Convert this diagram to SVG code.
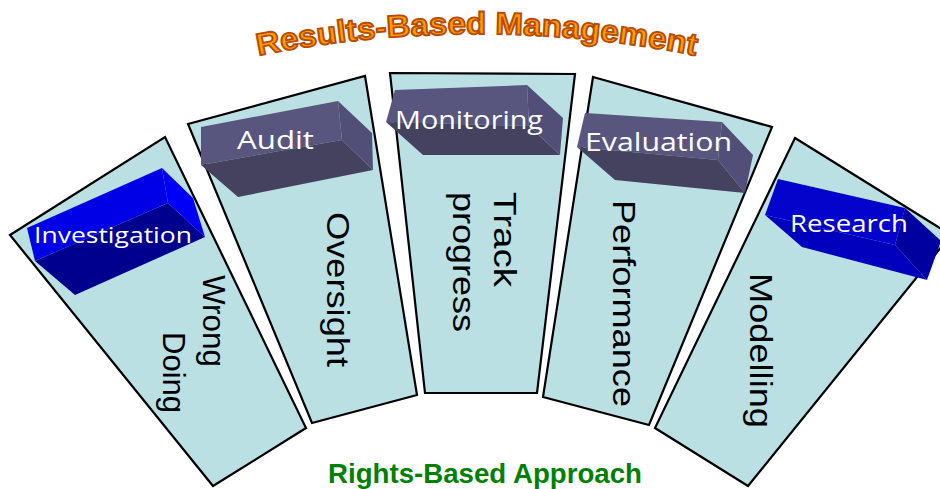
<svg xmlns="http://www.w3.org/2000/svg" width="940" height="489" viewBox="0 0 940 489">
<style>
.panel{fill:#bbe0e3;stroke:#000;stroke-width:2.2;stroke-linejoin:miter}
.ptxt{font-family:"Liberation Sans",Arial,sans-serif;font-size:31px;fill:#000}
.btxt{font-family:"Open Sans","DejaVu Sans",sans-serif;fill:#fff}
.pt{fill:#58567f}.pf{fill:#44425f}.pe{fill:#514e77}
.bt{fill:#0000e6}.bf{fill:#00008e}.be{fill:#0000f8}
.rt{fill:#0303cc}.rf{fill:#0000bd}.re{fill:#00009e}
.title{font-family:"Liberation Sans",Arial,sans-serif;font-weight:bold;font-size:31px;fill:#ff9c00;stroke:#b94a00;stroke-width:1.8}
.sub{font-family:"Liberation Sans",Arial,sans-serif;font-weight:bold;font-size:28px;fill:#008000}
</style>
<defs>
<path id="arc" d="M 247,57.8 A 1123 1123 0 0 1 707,57.8"/>
</defs>
<g id="title">
<text class="title"><textPath href="#arc" startOffset="50%" text-anchor="middle" textLength="440" lengthAdjust="spacingAndGlyphs">Results-Based Management</textPath></text>
</g>
<g id="wrongdoing">
<polygon class="panel" points="10,235 165,137 306,428 213,486"/>
<polygon class="bt" points="27,228 162,168 168,203 35,261"/>
<polygon class="bf" points="35,261 168,203 205,237 75,295"/>
<polygon class="be" points="162,168 193,198 205,237 168,203"/>
<text class="btxt" x="34" y="243" font-size="22" textLength="158" lengthAdjust="spacingAndGlyphs">Investigation</text>
<text class="ptxt" transform="translate(203,275) rotate(90)" textLength="92" lengthAdjust="spacingAndGlyphs">Wrong</text>
<text class="ptxt" transform="translate(163,332) rotate(90)" textLength="81" lengthAdjust="spacingAndGlyphs">Doing</text>
</g>
<g id="oversight">
<polygon class="panel" points="188,124 365,76 417,395 312,423"/>
<polygon class="pt" points="201,127 338,101 342,140 201,165"/>
<polygon class="pf" points="201,165 342,140 373,170 238,197"/>
<polygon class="pe" points="338,101 372,133 373,170 342,140"/>
<text class="btxt" x="237" y="149" font-size="26" textLength="77" lengthAdjust="spacingAndGlyphs">Audit</text>
<text class="ptxt" transform="translate(327,212) rotate(90)" textLength="155" lengthAdjust="spacingAndGlyphs">Oversight</text>
</g>
<g id="trackprogress">
<polygon class="panel" points="390,73 575,74 537,393 425,393"/>
<polygon class="pt" points="395,90 527,85 529,126 386,122"/>
<polygon class="pf" points="386,122 529,126 560,155 423,155"/>
<polygon class="pe" points="527,85 563,118 560,155 529,126"/>
<text class="btxt" x="395" y="129" font-size="26" textLength="148" lengthAdjust="spacingAndGlyphs">Monitoring</text>
<text class="ptxt" transform="translate(494,192) rotate(90)" textLength="95" lengthAdjust="spacingAndGlyphs">Track</text>
<text class="ptxt" transform="translate(453,192) rotate(90)" textLength="140" lengthAdjust="spacingAndGlyphs">progress</text>
</g>
<g id="performance">
<polygon class="panel" points="593,77 772,127 649,425 543,397"/>
<polygon class="pt" points="585,113 722,122 718,160 577,147"/>
<polygon class="pf" points="577,147 718,160 745,193 615,180"/>
<polygon class="pe" points="722,122 753,155 745,193 718,160"/>
<text class="btxt" x="585" y="151" font-size="25" textLength="147" lengthAdjust="spacingAndGlyphs">Evaluation</text>
<text class="ptxt" transform="translate(613,200) rotate(90)" textLength="207" lengthAdjust="spacingAndGlyphs">Performance</text>
</g>
<g id="modelling">
<polygon class="panel" points="795,138 951,235 748,486 655,428"/>
<polygon class="rt" points="778,179 905,208 895,245 765,215"/>
<polygon class="rf" points="765,215 895,245 927,280 802,247"/>
<polygon class="re" points="905,208 941,241 927,280 895,245"/>
<text class="btxt" x="790" y="232" font-size="23" textLength="118" lengthAdjust="spacingAndGlyphs">Research</text>
<text class="ptxt" transform="translate(750,273) rotate(90)" textLength="155" lengthAdjust="spacingAndGlyphs">Modelling</text>
</g>
<g id="connectors"></g>
<g id="footer">
<text class="sub" x="328" y="483" textLength="314" lengthAdjust="spacingAndGlyphs">Rights-Based Approach</text>
</g>
</svg>
